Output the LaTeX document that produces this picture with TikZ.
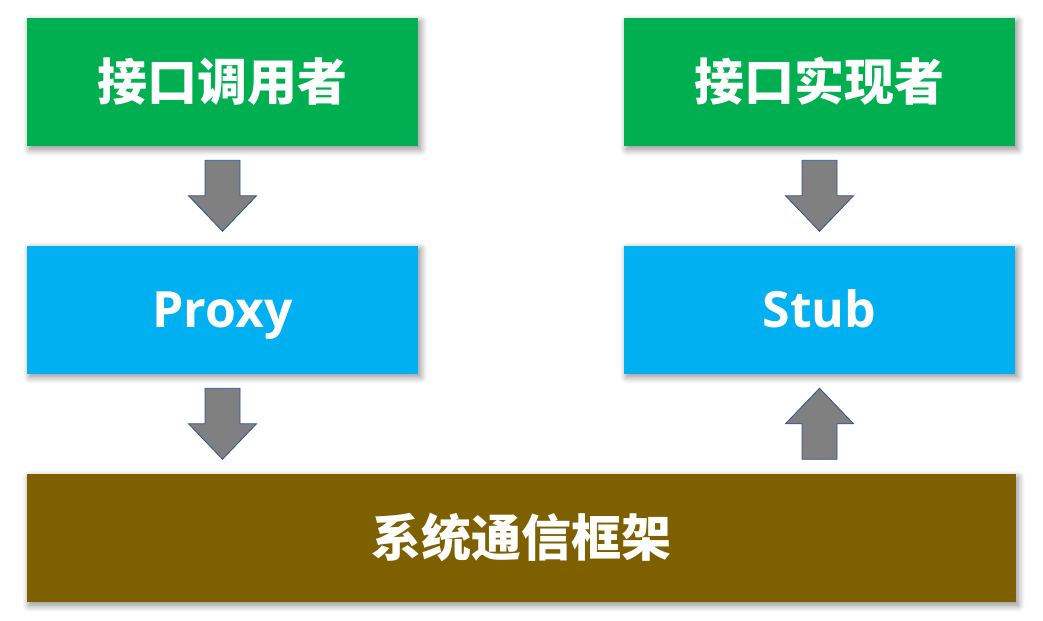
\documentclass[tikz,border=0pt]{standalone}
\usepackage{fontspec}
\setmainfont{Open Sans}
\newfontfamily\cjk{Noto Sans CJK SC}
\usepackage{tikz}
\usetikzlibrary{calc,shadows.blur}
\definecolor{callgreen}{RGB}{0,176,80}
\definecolor{proxyblue}{RGB}{0,176,240}
\definecolor{framebrown}{RGB}{127,96,0}
\definecolor{arrowgray}{RGB}{128,128,128}
\definecolor{arrowedge}{RGB}{47,82,143}

\tikzset{
    box/.style={minimum width=293.25pt, minimum height=96pt, inner sep=0pt,
        text height=27pt, text depth=0pt,
        text=white, font=\bfseries\fontsize{37.5}{40}\selectfont,
        blur shadow={shadow xshift=2pt, shadow yshift=-2.5pt, shadow blur radius=5pt,
            shadow blur steps=10, shadow opacity=45}},
    blockarrow/.style={fill=arrowgray, draw=arrowedge, line width=0.6pt}
}

\begin{document}
\begin{tikzpicture}[x=0.75pt,y=-0.75pt]
    \useasboundingbox (0,0) rectangle (1043,621);

    % Boxes
    \node[box,fill=callgreen] (caller) at (222.5,82) {\cjk 接口调用者};
    \node[box,fill=callgreen] (impl) at (819.5,82) {\cjk 接口实现者};
    \node[box,fill=proxyblue] (proxy) at (222.5,309.5) {Proxy};
    \node[box,fill=proxyblue] (stub) at (819.5,309.5) {Stub};
    \node[box,fill=framebrown,minimum width=741.75pt] (frame) at (521,538) {\cjk 系统通信框架};

    % Block arrows (1 = down, -1 = up)
    \foreach \a/\b/\s in {caller/proxy/1, proxy/frame/1, impl/stub/1, stub/frame/-1}
        \draw[blockarrow] ($(\a.south)!.5!(\a.south |- \b.north)$)
            ++(-17.5,-35.5*\s) -- ++(35,0) -- ++(0,35.5*\s) -- ++(16.5,0)
            -- ++(-34,35.5*\s) -- ++(-34,-35.5*\s) -- ++(16.5,0) -- cycle;
\end{tikzpicture}
\end{document}
